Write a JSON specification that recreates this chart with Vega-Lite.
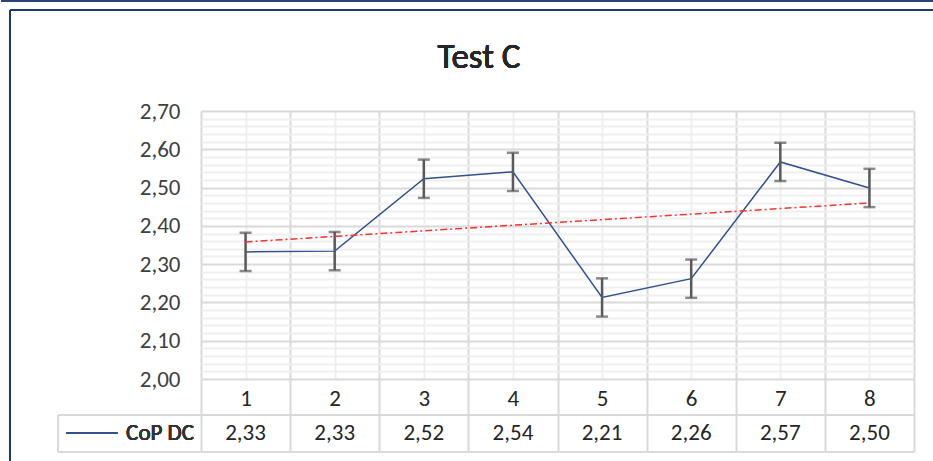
{
  "$schema": "https://vega.github.io/schema/vega-lite/v6.json",
  "width": 713,
  "height": 268,
  "padding": 0,
  "background": "white",
  "config": {
    "view": {"stroke": null},
    "font": "Carlito, Liberation Sans, sans-serif",
    "locale": {"number": {"decimal": ",", "thousands": ".", "grouping": [3], "currency": ["", " €"]}}
  },
  "data": {
    "values": [
      {"x": 1, "y": 2.332, "err": 0.05},
      {"x": 2, "y": 2.334, "err": 0.05},
      {"x": 3, "y": 2.523, "err": 0.05},
      {"x": 4, "y": 2.541, "err": 0.05},
      {"x": 5, "y": 2.213, "err": 0.05},
      {"x": 6, "y": 2.262, "err": 0.05},
      {"x": 7, "y": 2.567, "err": 0.05},
      {"x": 8, "y": 2.499, "err": 0.05}
    ]
  },
  "layer": [
    {
      "mark": {"type": "line", "color": "#34508f", "strokeWidth": 1.5},
      "encoding": {
        "x": {"field": "x", "type": "quantitative", "scale": {"domain": [0.5, 8.5], "nice": false, "zero": false},
          "axis": {"orient": "top", "values": [1, 2, 3, 4, 5, 6, 7, 8], "grid": true, "gridColor": "#efefef", "gridWidth": 2, "ticks": false, "domain": false, "labels": false, "title": null}},
        "y": {"field": "y", "type": "quantitative", "scale": {"domain": [2.0, 2.7], "nice": false, "zero": false},
          "axis": {"orient": "right", "values": [2.02, 2.04, 2.06, 2.08, 2.12, 2.14, 2.16, 2.18, 2.22, 2.24, 2.26, 2.28, 2.32, 2.34, 2.36, 2.38, 2.42, 2.44, 2.46, 2.48, 2.52, 2.54, 2.56, 2.58, 2.62, 2.64, 2.66, 2.68], "grid": true, "gridColor": "#efefef", "gridWidth": 2, "ticks": false, "labels": false, "domain": false, "title": null}}
      }
    },
    {
      "mark": {"type": "errorbar", "ticks": {"size": 12, "thickness": 2.5, "color": "#595959"}, "rule": {"strokeWidth": 2.5, "color": "#595959"}},
      "encoding": {
        "x": {"field": "x", "type": "quantitative",
          "axis": {"orient": "bottom", "values": [0.5, 1.5, 2.5, 3.5, 4.5, 5.5, 6.5, 7.5, 8.5], "grid": true, "gridColor": "#d9d9d9", "gridWidth": 2, "ticks": true, "tickSize": 73, "tickColor": "#d9d9d9", "tickWidth": 2, "domain": false, "labels": true, "labelExpr": "datum.value < 8 ? format(datum.value + 0.5, 'd') : ''", "labelOffset": 44.5, "labelPadding": -54, "labelBaseline": "middle", "labelAlign": "center", "labelFontSize": 23, "labelColor": "#262626", "labelOverlap": false, "labelBound": false, "labelFlush": false, "title": null}},
        "y": {"field": "y", "type": "quantitative",
          "axis": {"orient": "left", "values": [2.0, 2.1, 2.2, 2.3, 2.4, 2.5, 2.6, 2.7], "format": ".2f", "grid": true, "gridColor": "#d9d9d9", "gridWidth": 2, "ticks": false, "domain": false, "labelFontSize": 23, "labelColor": "#404040", "labelPadding": 21, "title": null}},
        "yError": {"field": "err"}
      }
    },
    {
      "transform": [{"regression": "y", "on": "x", "extent": [1, 8]}],
      "mark": {"type": "line", "color": "#ff3030", "strokeWidth": 1.5, "strokeDash": [7, 3, 2, 3]},
      "encoding": {
        "x": {"field": "x", "type": "quantitative", "axis": null},
        "y": {"field": "y", "type": "quantitative", "axis": null}
      }
    },
    {
      "mark": {"type": "text", "fontSize": 23, "color": "#262626", "baseline": "middle", "align": "center"},
      "encoding": {
        "x": {"field": "x", "type": "quantitative", "axis": null},
        "y": {"datum": 1.859, "type": "quantitative", "axis": null},
        "text": {"field": "y", "type": "quantitative", "format": ".2f"}
      }
    },
    {
      "mark": {"type": "rule", "color": "#d9d9d9", "strokeWidth": 2},
      "encoding": {
        "x": {"datum": -1.1045, "type": "quantitative", "axis": null},
        "x2": {"datum": 8.5},
        "y": {"datum": 1.906, "type": "quantitative", "axis": null}
      }
    },
    {
      "mark": {"type": "rule", "color": "#d9d9d9", "strokeWidth": 2},
      "encoding": {
        "x": {"datum": -1.1045, "type": "quantitative", "axis": null},
        "x2": {"datum": 8.5},
        "y": {"datum": 1.8093, "type": "quantitative", "axis": null}
      }
    },
    {
      "mark": {"type": "rule", "color": "#d9d9d9", "strokeWidth": 2},
      "encoding": {
        "x": {"datum": -1.1045, "type": "quantitative", "axis": null},
        "y": {"datum": 1.906, "type": "quantitative", "axis": null},
        "y2": {"datum": 1.8093}
      }
    },
    {
      "mark": {"type": "rule", "color": "#34508f", "strokeWidth": 1.5},
      "encoding": {
        "x": {"datum": -1.0147, "type": "quantitative", "axis": null},
        "x2": {"datum": -0.431},
        "y": {"datum": 1.859, "type": "quantitative", "axis": null}
      }
    },
    {
      "mark": {"type": "text", "text": "CoP DC", "fontSize": 23, "color": "#333333", "baseline": "middle", "align": "right"},
      "encoding": {
        "x": {"datum": 0.4215, "type": "quantitative", "axis": null},
        "y": {"datum": 1.859, "type": "quantitative", "axis": null}
      }
    },
    {
      "mark": {"type": "text", "text": "Test C", "fontSize": 35, "color": "#262626", "baseline": "alphabetic", "align": "center"},
      "encoding": {
        "x": {"datum": 3.619, "type": "quantitative", "axis": null},
        "y": {"datum": 2.8123, "type": "quantitative", "axis": null}
      }
    },
    {
      "mark": {"type": "rule", "color": "#2b4478", "strokeWidth": 2},
      "encoding": {
        "x": {"datum": -1.744, "type": "quantitative", "axis": null},
        "x2": {"datum": 8.7244},
        "y": {"datum": 2.9873, "type": "quantitative", "axis": null}
      }
    },
    {
      "mark": {"type": "rule", "color": "#1f3a6e", "strokeWidth": 2},
      "encoding": {
        "x": {"datum": -1.6431, "type": "quantitative", "axis": null},
        "x2": {"datum": 8.7244},
        "y": {"datum": 2.9638, "type": "quantitative", "axis": null}
      }
    },
    {
      "mark": {"type": "rule", "color": "#1f3a6e", "strokeWidth": 2},
      "encoding": {
        "x": {"datum": -1.6431, "type": "quantitative", "axis": null},
        "y": {"datum": 2.9638, "type": "quantitative", "axis": null},
        "y2": {"datum": 1.7858}
      }
    }
  ]
}
